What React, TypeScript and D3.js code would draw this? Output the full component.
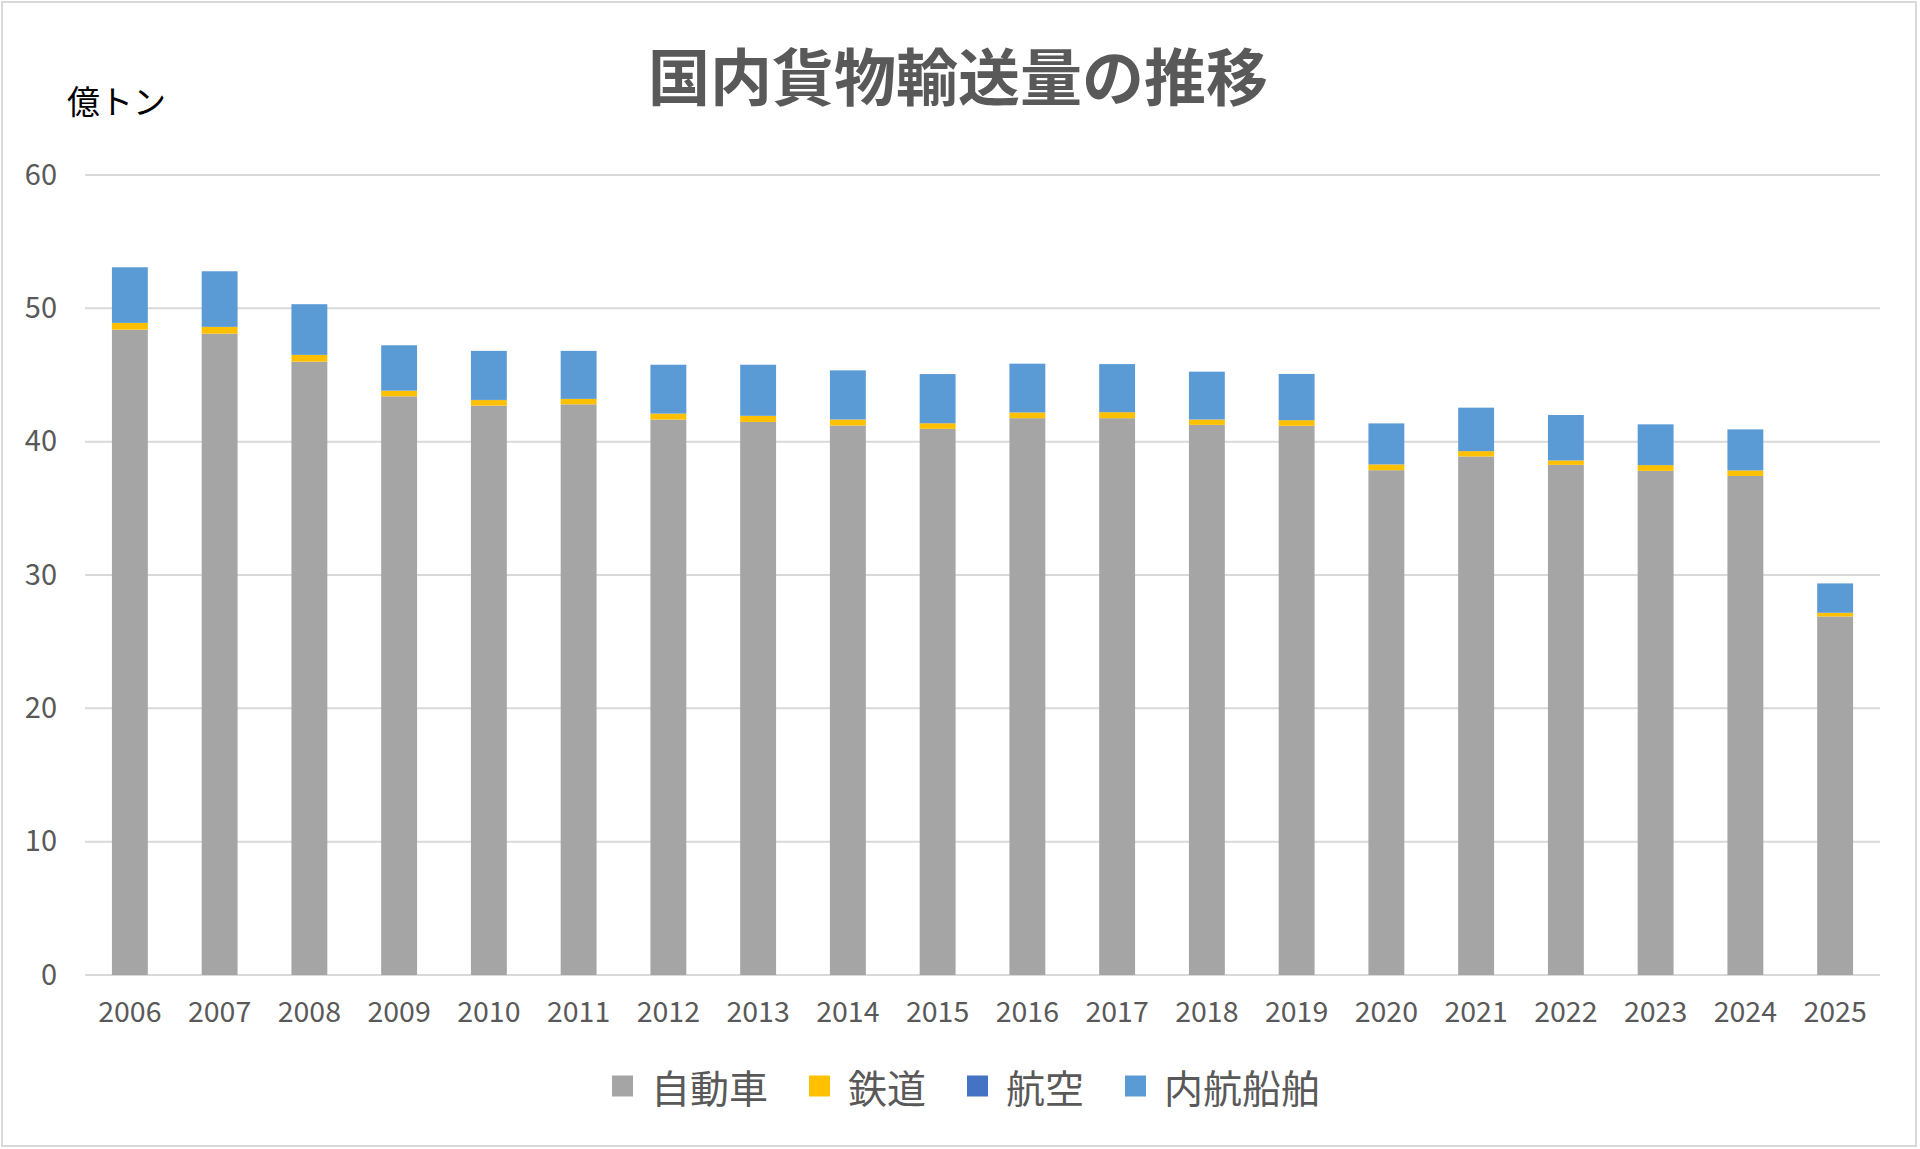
/**
 * D3 stacked bar chart: domestic freight transport volume by mode.
 */
import * as d3 from 'd3';
import { useEffect, useRef } from 'react';

const years = [
  '2006', '2007', '2008', '2009', '2010', '2011', '2012', '2013', '2014', '2015',
  '2016', '2017', '2018', '2019', '2020', '2021', '2022', '2023', '2024', '2025',
];

// 億トン
const truck = [
  48.4, 48.1, 46.0, 43.4, 42.7, 42.8, 41.66, 41.48, 41.21, 40.96,
  41.76, 41.76, 41.26, 41.19, 37.86, 38.89, 38.26, 37.81, 37.43, 26.89,
];
const rail = [
  0.5, 0.5, 0.5, 0.42, 0.42, 0.4, 0.44, 0.45, 0.45, 0.42,
  0.43, 0.45, 0.4, 0.42, 0.43, 0.4, 0.33, 0.43, 0.41, 0.27,
];
const air = [
  0.01, 0.01, 0.01, 0.01, 0.01, 0.01, 0.01, 0.01, 0.01, 0.01,
  0.01, 0.01, 0.01, 0.01, 0.01, 0.01, 0.01, 0.01, 0.01, 0.01,
];
const coastal = [
  4.17, 4.17, 3.8, 3.4, 3.68, 3.6, 3.66, 3.83, 3.68, 3.68,
  3.65, 3.6, 3.58, 3.46, 3.07, 3.25, 3.4, 3.05, 3.07, 2.2,
];

const seriesNames = ['自動車', '鉄道', '航空', '内航船舶'];
const seriesColors = ['#A5A5A5', '#FFC000', '#4472C4', '#5B9BD5'];
const yTicks = [0, 10, 20, 30, 40, 50, 60];

const W = 1920;
const H = 1149;
const FONT = '"Noto Sans CJK JP", "Noto Sans", sans-serif';

export default function App() {
  const svgRef = useRef<SVGSVGElement>(null);

  useEffect(() => {
    if (!svgRef.current) return;
    const svg = d3.select(svgRef.current);
    svg.selectAll('*').remove();

    const left = 85;
    const right = 1880;
    const top = 175;
    const bottom = 975;

    const rows = years.map((year, i) => ({
      year,
      [seriesNames[0]]: truck[i],
      [seriesNames[1]]: rail[i],
      [seriesNames[2]]: air[i],
      [seriesNames[3]]: coastal[i],
    }));
    const stacked = d3.stack<any>().keys(seriesNames)(rows);

    const x = d3
      .scaleBand()
      .domain(years)
      .range([left, right])
      .paddingInner(0.6)
      .paddingOuter(0.3);
    const y = d3.scaleLinear().domain([0, 60]).range([bottom, top]);

    // outer frame
    svg
      .append('rect')
      .attr('x', 2)
      .attr('y', 2)
      .attr('width', W - 6)
      .attr('height', H - 5)
      .attr('fill', '#fff')
      .attr('stroke', '#d9d9d9')
      .attr('stroke-width', 2);

    // gridlines
    svg
      .append('g')
      .selectAll('line')
      .data(yTicks)
      .join('line')
      .attr('x1', left)
      .attr('x2', right)
      .attr('y1', (d) => y(d))
      .attr('y2', (d) => y(d))
      .attr('stroke', '#d9d9d9')
      .attr('stroke-width', 2);

    // bars
    svg
      .append('g')
      .selectAll('g')
      .data(stacked)
      .join('g')
      .attr('fill', (_, i) => seriesColors[i])
      .selectAll('rect')
      .data((d) => d)
      .join('rect')
      .attr('x', (d) => x(d.data.year) ?? 0)
      .attr('width', x.bandwidth())
      .attr('y', (d) => y(d[1]))
      .attr('height', (d) => y(d[0]) - y(d[1]));

    // y axis labels
    const yAxis = svg
      .append('g')
      .attr('transform', `translate(${left},0)`)
      .call(d3.axisLeft(y).tickValues(yTicks).tickSize(0).tickPadding(28));
    yAxis.select('.domain').remove();
    yAxis
      .selectAll('.tick text')
      .style('fill', '#595959')
      .style('font-size', '29px')
      .style('font-family', FONT);

    // x axis labels
    const xAxis = svg
      .append('g')
      .attr('transform', `translate(0,${bottom})`)
      .call(d3.axisBottom(x).tickSize(0).tickPadding(27));
    xAxis.select('.domain').remove();
    xAxis
      .selectAll('.tick text')
      .style('fill', '#595959')
      .style('font-size', '28.5px')
      .style('font-family', FONT);

    // title
    svg
      .append('text')
      .attr('x', 958)
      .attr('y', 74)
      .attr('text-anchor', 'middle')
      .attr('dominant-baseline', 'central')
      .style('font-family', FONT)
      .style('font-size', '62px')
      .style('font-weight', 700)
      .style('fill', '#595959')
      .text('国内貨物輸送量の推移');

    // unit label
    svg
      .append('text')
      .attr('x', 67)
      .attr('y', 100)
      .attr('dominant-baseline', 'central')
      .style('font-family', FONT)
      .style('font-size', '33px')
      .style('fill', '#000')
      .text('億トン');

    // legend
    const fs = 39;
    const sq = 21;
    const gap = 18;
    const itemGap = 41;
    const widths = seriesNames.map((n) => sq + gap + n.length * fs);
    const total = d3.sum(widths) + itemGap * (seriesNames.length - 1);
    let lx = 966 - total / 2;
    const ly = 1086;
    const legend = svg.append('g');
    seriesNames.forEach((name, i) => {
      legend
        .append('rect')
        .attr('x', lx)
        .attr('y', ly - sq / 2)
        .attr('width', sq)
        .attr('height', sq)
        .attr('fill', seriesColors[i]);
      legend
        .append('text')
        .attr('x', lx + sq + gap)
        .attr('y', ly)
        .attr('dominant-baseline', 'central')
        .style('font-family', FONT)
        .style('font-size', `${fs}px`)
        .style('fill', '#595959')
        .text(name);
      lx += widths[i] + itemGap;
    });
  }, []);

  return (
    <div style={{ position: 'absolute', left: 0, top: 0 }}>
      <svg ref={svgRef} width={W} height={H} style={{ display: 'block' }} />
    </div>
  );
}
